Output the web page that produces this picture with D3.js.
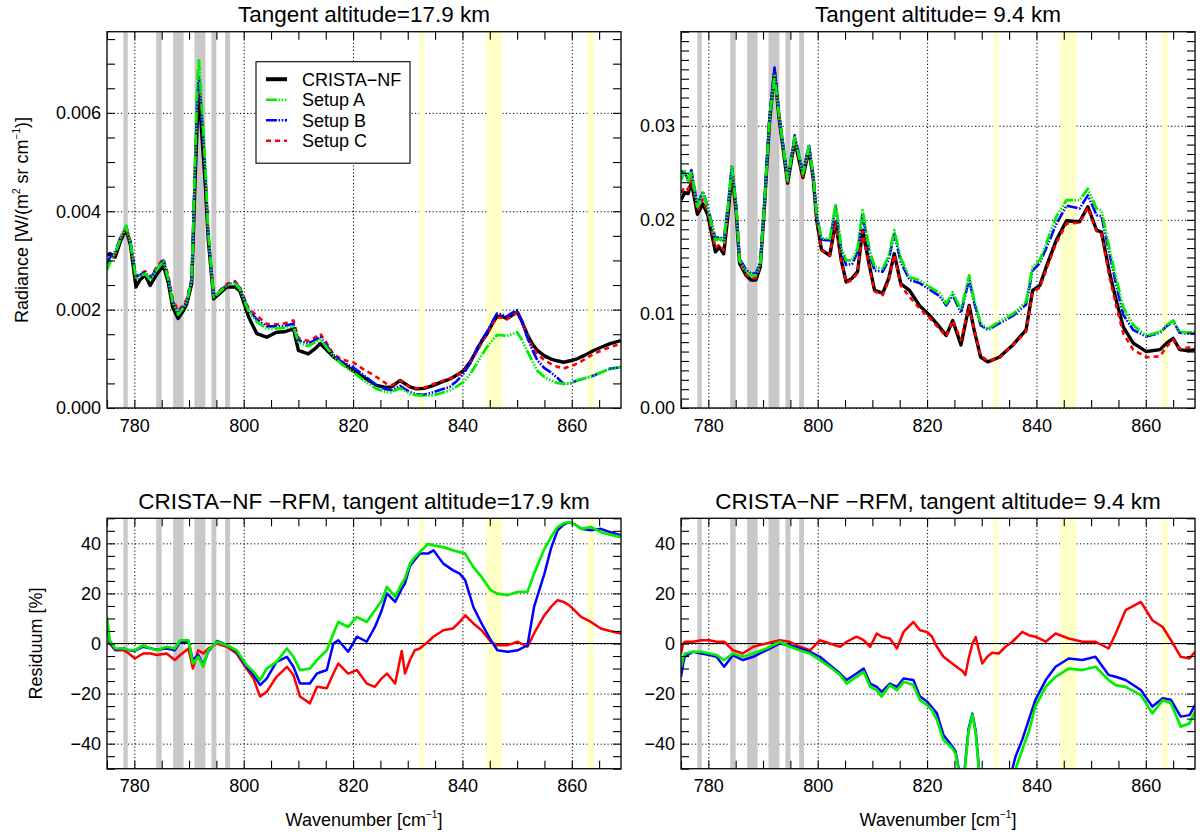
<!DOCTYPE html>
<html>
<head>
<meta charset="utf-8">
<script src="https://d3js.org/d3.v7.min.js"></script>
<style>
  body { margin: 0; background: #fff; }
  svg { font-family: "Liberation Sans", Arial, Helvetica, sans-serif; }
</style>
</head>
<body>
<div id="chart"></div>
<script>
// masked spectral regions (cm-1)
var grayBands = [[778.0, 778.8], [784.0, 785.0], [787.1, 789.0], [791.0, 793.0], [794.1, 795.0], [796.6, 797.5]];
var yellowBands = [[832.1, 833.0], [844.3, 847.3], [862.9, 864.0]];

var xMajorTicks = [780, 800, 820, 840, 860];
var xMinorStep = 5;

// ---- radiance, tangent altitude 17.9 km (units 1e-3 W/(m2 sr cm-1)) ----
var wn18 = [775, 775.5, 776.5, 777.5, 778.5, 779.3, 780.3, 781, 782, 782.9,
  784, 785.3, 786.2, 787, 788, 789, 789.6, 790.5, 791.1, 791.5,
  791.8, 792.2, 793, 793.5, 794.5, 795.5, 796.9, 798.4, 799.3, 800.9,
  802.4, 804.2, 806, 807.5, 809.1, 810, 811.8, 813, 814, 815,
  816.4, 818, 820, 822, 824.3, 826, 827, 828.6, 830.4, 831.6,
  833, 834.7, 836, 837.7, 839, 840.2, 841.5, 842.6, 843.5, 844.5,
  845.5, 846.3, 847.2, 848.1, 849, 850, 850.8, 851.8, 852.8, 853.7,
  855, 856.1, 857.3, 858.5, 859.7, 861, 862.5, 864, 865.5, 867,
  869];
var crista18 = [3.10, 3.14, 3.07, 3.40, 3.64, 3.30, 2.46, 2.60, 2.70, 2.49,
  2.70, 2.90, 2.55, 2.05, 1.82, 1.98, 2.12, 2.53, 4.6, 5.8,
  6.35, 5.8, 4.5, 3.45, 2.22, 2.32, 2.46, 2.46, 2.38, 1.85,
  1.51, 1.44, 1.54, 1.55, 1.61, 1.17, 1.10, 1.20, 1.31, 1.20,
  1.04, 0.92, 0.76, 0.62, 0.46, 0.42, 0.43, 0.56, 0.43, 0.39,
  0.40, 0.46, 0.52, 0.59, 0.67, 0.76, 0.95, 1.17, 1.35, 1.51,
  1.72, 1.86, 1.86, 1.82, 1.88, 1.95, 1.78, 1.51, 1.30, 1.17,
  1.06, 1.00, 0.96, 0.93, 0.96, 1.00, 1.08, 1.17, 1.24, 1.31,
  1.37];
var setupA18 = [2.80, 2.95, 3.15, 3.45, 3.70, 3.35, 2.62, 2.68, 2.73, 2.60,
  2.80, 2.98, 2.62, 2.15, 1.90, 2.04, 2.15, 2.60, 5.0, 6.6,
  7.10, 6.4, 4.9, 3.60, 2.25, 2.35, 2.49, 2.53, 2.42, 1.96,
  1.75, 1.61, 1.62, 1.63, 1.66, 1.33, 1.26, 1.33, 1.40, 1.26,
  1.05, 0.88, 0.73, 0.56, 0.39, 0.33, 0.32, 0.40, 0.29, 0.26,
  0.25, 0.26, 0.30, 0.36, 0.44, 0.53, 0.70, 0.90, 1.07, 1.24,
  1.38, 1.48, 1.48, 1.46, 1.50, 1.54, 1.40, 1.17, 0.95, 0.76,
  0.63, 0.56, 0.51, 0.49, 0.51, 0.56, 0.61, 0.66, 0.73, 0.80,
  0.83];
var setupB18 = [2.95, 3.05, 3.18, 3.48, 3.70, 3.38, 2.66, 2.70, 2.76, 2.63,
  2.82, 3.00, 2.65, 2.18, 1.93, 2.06, 2.18, 2.62, 4.9, 6.3,
  6.75, 6.2, 4.8, 3.55, 2.26, 2.36, 2.50, 2.55, 2.44, 1.99,
  1.80, 1.66, 1.66, 1.67, 1.71, 1.37, 1.31, 1.38, 1.44, 1.30,
  1.08, 0.93, 0.83, 0.66, 0.46, 0.38, 0.36, 0.45, 0.32, 0.28,
  0.27, 0.32, 0.37, 0.43, 0.55, 0.70, 0.92, 1.20, 1.38, 1.55,
  1.76, 1.92, 1.90, 1.86, 1.93, 1.99, 1.78, 1.45, 1.18, 0.97,
  0.81, 0.73, 0.62, 0.49, 0.50, 0.56, 0.61, 0.66, 0.73, 0.80,
  0.83];
var setupC18 = [2.93, 3.02, 3.15, 3.45, 3.68, 3.38, 2.68, 2.72, 2.78, 2.66,
  2.85, 3.04, 2.70, 2.22, 1.98, 2.10, 2.22, 2.65, 4.8, 6.1,
  6.6, 6.1, 4.7, 3.55, 2.28, 2.38, 2.52, 2.58, 2.46, 2.02,
  1.88, 1.71, 1.70, 1.72, 1.78, 1.42, 1.36, 1.43, 1.51, 1.35,
  1.10, 0.98, 0.93, 0.78, 0.63, 0.50, 0.46, 0.56, 0.42, 0.40,
  0.41, 0.49, 0.54, 0.59, 0.67, 0.74, 0.93, 1.14, 1.32, 1.50,
  1.70, 1.84, 1.84, 1.80, 1.86, 1.94, 1.78, 1.50, 1.25, 1.10,
  0.97, 0.90, 0.84, 0.80, 0.85, 0.90, 1.00, 1.10, 1.17, 1.24,
  1.31];

// ---- radiance, tangent altitude 9.4 km (units 1e-3) ----
var wn9 = [775, 775.7, 776.3, 776.9, 778, 779, 779.9, 781.3, 782, 782.8,
  783.6, 784.3, 785.1, 785.7, 786.9, 787.8, 788.7, 789.5, 790.3, 791.2,
  792.1, 793.0, 794.5, 795.8, 797.3, 798.4, 799.2, 799.8, 800.7, 802.2,
  803.3, 804.3, 805.2, 806.3, 807.3, 808.2, 809.5, 810.4, 811.9, 813,
  814.0, 815.2, 816.8, 818.6, 820.4, 822.3, 823.5, 824.7, 826.2, 827.7,
  828.6, 829.8, 831.1, 833.2, 835.7, 838.1, 839.3, 840.6, 841.8, 843.6,
  845.5, 847.9, 849.4, 851.0, 851.9, 853.4, 854.7, 855.9, 857.7, 860.1,
  862.6, 863.8, 865.0, 866.2, 867.5, 869];
var crista9 = [22.1, 22.9, 22.8, 24.0, 20.6, 21.7, 20.5, 16.6, 17.1, 16.4,
  20.5, 25.1, 20.8, 15.4, 14.1, 13.6, 13.6, 15.0, 21.8, 30.5,
  35.7, 30.5, 23.9, 28.4, 24.5, 27.5, 24.3, 20.0, 16.8, 16.2,
  19.8, 15.7, 13.4, 13.8, 14.5, 18.9, 15.0, 12.5, 12.2, 13.8,
  16.4, 13.2, 12.5, 10.9, 9.9, 8.6, 7.7, 9.3, 6.7, 10.9,
  8.3, 5.4, 4.9, 5.4, 6.7, 8.3, 12.5, 13.0, 15.0, 17.8,
  19.9, 19.8, 21.4, 18.9, 18.7, 14.3, 11.2, 8.6, 6.9, 6.0,
  6.2, 6.9, 7.4, 6.2, 6.1, 6.2];
var setupA9 = [24.2, 25.2, 24.0, 25.2, 21.4, 22.9, 21.2, 17.8, 18.0, 17.6,
  21.4, 25.6, 21.4, 15.7, 14.5, 14.1, 14.1, 15.3, 22.1, 30.9,
  35.3, 30.9, 24.2, 28.8, 24.9, 27.8, 24.6, 20.6, 18.0, 18.0,
  21.7, 17.1, 15.7, 15.7, 17.0, 21.0, 16.8, 15.0, 14.8, 16.2,
  18.9, 15.9, 13.9, 13.6, 12.9, 12.2, 11.1, 12.3, 10.4, 14.1,
  11.5, 9.0, 8.4, 9.2, 10.0, 11.3, 15.0, 15.7, 17.5, 20.3,
  22.1, 22.1, 23.3, 21.2, 21.0, 16.8, 13.5, 10.7, 8.8, 7.7,
  8.1, 8.8, 9.3, 8.1, 8.0, 8.1];
var setupB9 = [25.2, 25.0, 24.3, 25.3, 21.6, 23.0, 21.4, 18.0, 18.2, 17.8,
  21.6, 25.8, 21.6, 15.9, 14.7, 14.3, 14.3, 15.5, 22.3, 31.1,
  36.2, 31.0, 24.4, 29.0, 25.1, 28.0, 24.7, 20.6, 17.9, 17.8,
  21.4, 16.8, 15.2, 15.3, 16.6, 20.6, 16.4, 14.6, 14.5, 15.8,
  18.5, 15.5, 13.6, 13.3, 12.6, 11.9, 10.9, 12.0, 10.1, 13.7,
  11.2, 8.8, 8.3, 9.0, 9.8, 11.0, 14.6, 15.4, 17.0, 19.5,
  21.5, 21.2, 22.6, 20.5, 20.4, 16.3, 12.8, 9.9, 8.3, 7.6,
  8.0, 8.7, 9.2, 8.0, 7.9, 7.9];
var setupC9 = [22.9, 23.5, 23.2, 24.3, 21.0, 22.2, 20.8, 17.0, 17.4, 16.8,
  20.8, 25.3, 21.0, 15.5, 14.2, 13.8, 13.8, 15.1, 22.0, 30.7,
  36.0, 30.7, 24.0, 28.6, 24.6, 27.6, 24.3, 20.1, 16.8, 16.2,
  19.8, 15.6, 13.3, 13.6, 14.4, 18.8, 14.8, 12.4, 12.0, 13.6,
  16.3, 13.0, 11.8, 10.6, 9.6, 8.4, 7.6, 9.3, 7.2, 10.8,
  8.3, 5.6, 5.0, 5.3, 6.7, 8.1, 12.3, 12.8, 14.7, 17.5,
  19.6, 19.7, 21.3, 18.8, 18.5, 13.8, 10.6, 7.9, 6.2, 5.4,
  5.5, 6.5, 7.3, 6.3, 6.4, 6.5];

// ---- residuals CRISTA-NF - RFM [%], 17.9 km ----
var wnRes18 = [775, 775.5, 776.5, 778, 779, 780.1, 781.6, 783, 784.1, 785.9,
  787.4, 788.4, 789.9, 790.7, 791.7, 792.6, 793.5, 795.1, 796.9, 798.7,
  800.5, 801.8, 803, 804.2, 806, 807.9, 809.1, 810.3, 812.1, 813.4,
  815.2, 816.4, 817.3, 819.1, 820.7, 822.5, 824, 825.2, 826.2, 827.7,
  828.9, 829.5, 830.4, 831.3, 832.2, 833.7, 834.7, 836.5, 838.3, 839.5,
  840.5, 842, 843.5, 845.2, 846.4, 848.2, 850.1, 851.9, 853.1, 855,
  856.2, 857.4, 858.5, 859.5, 860.6, 861.7, 863.5, 865.3, 867, 869];
var resA18 = [10.6, 1.3, -2.0, -2.0, -2.5, -2.7, -0.7, -2.0, -2.7, -1.3,
  -2.0, 1.3, 1.3, -8.0, -5.3, -9.3, -2.7, 0.7, -0.7, -2.7,
  -8.6, -11.3, -14.6, -10.0, -7.3, -2.0, -5.3, -10.6, -10.0, -6.6,
  -2.7, 4.0, 8.6, 6.6, 10.6, 8.6, 13.3, 17.0, 22.6, 18.6,
  23.9, 26.0, 31.9, 34.5, 36.5, 39.8, 39.2, 38.5, 37.2, 36.5,
  35.9, 30.5, 26.6, 21.2, 19.9, 19.3, 20.6, 20.6, 27.9, 37.8,
  42.5, 46.5, 48.0, 48.5, 47.5, 45.8, 46.5, 44.5, 43.5, 42.5];
var resB18 = [8.0, 0.5, -2.5, -2.0, -2.7, -3.0, -1.3, -2.0, -2.5, -2.0,
  -2.7, 0.7, 0.7, -6.6, -4.6, -8.6, -3.3, 1.0, -0.7, -3.3,
  -9.3, -12.6, -16.6, -14.0, -7.3, -5.3, -9.3, -16.0, -16.0, -12.0,
  -10.6, 0.0, 1.3, -3.3, 2.7, 0.7, 6.6, 13.0, 20.0, 16.6,
  21.9, 24.0, 31.0, 33.5, 35.9, 35.9, 37.2, 31.9, 29.2, 27.9,
  25.3, 14.6, 8.0, 1.3, -2.7, -3.3, -2.7, -0.7, 14.6, 27.9,
  38.0, 45.2, 47.5, 48.5, 47.5, 45.8, 45.2, 45.8, 44.5, 43.2];
var resC18 = [9.3, 0.0, -2.7, -2.7, -4.0, -6.0, -4.0, -4.0, -4.6, -4.0,
  -6.6, -4.6, -2.0, -10.0, -2.7, -4.0, -2.0, 0.0, -1.3, -4.0,
  -10.0, -14.0, -21.2, -19.3, -13.3, -9.3, -12.6, -21.2, -23.9, -17.3,
  -17.9, -12.0, -8.0, -12.0, -10.6, -16.0, -17.3, -14.0, -12.0, -16.0,
  -3.0, -12.0, -6.6, -2.7, -2.0, 0.7, 2.7, 5.3, 6.0, 8.6,
  11.3, 8.0, 5.3, 0.7, -0.7, -0.7, 0.7, -1.3, 4.0, 11.3,
  14.6, 17.3, 16.6, 15.3, 13.0, 10.6, 8.6, 6.0, 5.0, 4.0];

// ---- residuals CRISTA-NF - RFM [%], 9.4 km (values below -50 leave the frame) ----
var wnRes9 = [775, 775.4, 775.7, 777.2, 778.7, 780.2, 781.5, 782.9, 784.5, 786.3,
  788.2, 790.6, 793.1, 794.9, 796.7, 798.6, 800.4, 802.2, 804.1, 805.3,
  807.1, 808.4, 809.6, 810.8, 811.7, 813.2, 814.5, 815.7, 817.5, 818.7,
  820, 820.9, 821.8, 823, 824.6, 825.2, 825.8, 826.5, 827.0, 827.6,
  828.3, 828.9, 829.5, 830.1, 831, 831.9, 833.1, 834.5, 835.6, 836.2,
  837.4, 838.6, 839.8, 841.7, 843.5, 845.9, 848.4, 850.8, 853.2, 854.5,
  856.3, 859.1, 861.2, 863.1, 864.6, 866.4, 868, 869];
var resA9 = [-9.3, -6.0, -4.0, -3.3, -3.3, -4.0, -4.6, -6.6, -4.0, -5.3,
  -4.0, -2.0, 0.7, -1.3, -2.7, -4.0, -6.6, -9.3, -12.6, -16.0,
  -13.3, -11.3, -17.3, -18.6, -21.2, -16.6, -18.6, -15.3, -16.6, -22.6,
  -24.6, -26.6, -30.5, -38.5, -41.8, -44.0, -51.0, -60, -48, -35,
  -28.5, -36, -51, -62, -68, -68, -66, -60, -53, -50,
  -42.5, -35.2, -25.2, -17.3, -13.3, -10.0, -10.6, -9.3, -14.6, -16.6,
  -17.3, -20.6, -27.9, -22.6, -23.9, -33.2, -31.9, -27.2];
var resB9 = [-13.3, -8.0, -5.3, -3.3, -4.0, -4.6, -5.3, -9.3, -4.6, -6.6,
  -5.3, -2.7, 0.0, -0.7, -2.0, -3.3, -5.3, -8.6, -12.0, -14.6,
  -12.0, -10.0, -16.0, -17.3, -19.3, -16.0, -17.3, -14.0, -14.6, -21.2,
  -23.2, -25.5, -27.9, -36.5, -41.0, -43.0, -50.0, -60, -47, -34,
  -28.0, -35, -50, -62, -68, -68, -66, -58, -50, -45,
  -38.5, -30.5, -22.6, -14.6, -9.3, -6.0, -6.6, -5.3, -12.6, -13.3,
  -14.6, -18.6, -25.2, -21.9, -22.5, -29.2, -28.6, -24.6];
var resC9 = [-4.0, 0.0, 0.7, 0.7, 1.3, 1.3, 0.7, 0.7, -2.7, -4.0,
  -1.3, 0.0, 1.3, 0.7, -1.3, -2.7, 1.3, 0.0, -1.3, 0.7,
  2.7, 1.3, -1.3, 4.0, 2.7, 2.0, -2.0, 4.6, 8.6, 5.3,
  4.6, 2.7, -1.3, -5.3, -8.0, -9.0, -10.0, -11.0, -12.6, -6.0,
  0.0, 2.6, -3.0, -8.0, -5.3, -3.7, -4.0, -1.0, 0.7, 2.0,
  4.6, 3.3, 2.7, 0.7, 4.0, 2.0, 0.7, 0.7, -2.0, 4.0,
  13.3, 16.6, 9.3, 6.6, 1.3, -5.3, -6.0, -3.3];

var svgWidth = 1200;
var svgHeight = 836;

var svg = d3.select("#chart")
  .append("svg")
  .attr("width", svgWidth)
  .attr("height", svgHeight);

// line styles shared by panels and legend
var styles = {
  crista: { color: "#000000", width: 3.4, dash: null },
  A: { color: "#00ee00", width: 2.8, dash: "11,1.6,1.5,1.6,1.5,1.6,1.5,1.6" },
  B: { color: "#0000ff", width: 2.6, dash: "11,1.6,1.5,1.6,1.5,1.6" },
  C: { color: "#ff0000", width: 2.6, dash: "5,4" },
  rA: { color: "#00ee00", width: 2.7, dash: null },
  rB: { color: "#0000ff", width: 2.5, dash: null },
  rC: { color: "#ff0000", width: 2.5, dash: null }
};

function drawPanel(p) {
  var width = p.width, height = p.height;
  var g = svg.append("g").attr("transform", "translate(" + p.left + "," + p.top + ")");

  var x = d3.scaleLinear().domain([775, 869]).range([0, width]);
  var y = d3.scaleLinear().domain(p.yDomain).range([height, 0]);

  g.append("clipPath").attr("id", p.id)
    .append("rect").attr("width", width).attr("height", height);

  // dotted grid at the labelled ticks
  g.append("g").attr("transform", "translate(0," + height + ")")
    .call(d3.axisBottom(x).tickValues(xMajorTicks).tickSize(-height).tickFormat(""))
    .call(function(a) { a.select(".domain").remove(); });
  g.append("g")
    .call(d3.axisLeft(y).tickValues(p.yMajor).tickSize(-width).tickFormat(""))
    .call(function(a) { a.select(".domain").remove(); });
  g.selectAll(".tick line")
    .attr("stroke", "#000")
    .attr("stroke-width", 1)
    .attr("stroke-dasharray", "1.2,2.3");

  // shaded regions
  var bands = grayBands.map(function(b) { return { r: b, c: "#c8c8c8" }; })
    .concat(yellowBands.map(function(b) { return { r: b, c: "#ffffc8" }; }));
  g.append("g").selectAll("rect")
    .data(bands)
    .enter()
    .append("rect")
    .attr("x", function(d) { return x(d.r[0]); })
    .attr("width", function(d) { return x(d.r[1]) - x(d.r[0]); })
    .attr("y", 0)
    .attr("height", height)
    .attr("fill", function(d) { return d.c; });

  if (p.zero) {
    g.append("line")
      .attr("x1", 0).attr("x2", width)
      .attr("y1", y(0)).attr("y2", y(0))
      .attr("stroke", "#000").attr("stroke-width", 1.2);
  }

  var line = d3.line()
    .x(function(d) { return x(d[0]); })
    .y(function(d) { return y(d[1]); });

  var dataG = g.append("g").attr("clip-path", "url(#" + p.id + ")");
  p.series.forEach(function(s) {
    var st = styles[s.style];
    dataG.append("path")
      .datum(d3.zip(s.wn, s.vals))
      .attr("fill", "none")
      .attr("stroke", st.color)
      .attr("stroke-width", st.width)
      .attr("stroke-linejoin", "round")
      .attr("stroke-dasharray", st.dash)
      .attr("d", line);
  });

  // short inward minor ticks on all four sides
  var xMinor = d3.range(775, 870, xMinorStep);
  var yMinor = d3.range(p.yDomain[0], p.yDomain[1] + 1e-9, p.yMinorStep);
  var tickG = g.append("g").attr("class", "minor");
  tickG.append("g").attr("transform", "translate(0," + height + ")")
    .call(d3.axisBottom(x).tickValues(xMinor).tickSize(-8).tickFormat(""));
  tickG.append("g")
    .call(d3.axisTop(x).tickValues(xMinor).tickSize(-8).tickFormat(""));
  tickG.append("g")
    .call(d3.axisLeft(y).tickValues(yMinor).tickSize(-8).tickFormat(""));
  tickG.append("g").attr("transform", "translate(" + width + ",0)")
    .call(d3.axisRight(y).tickValues(yMinor).tickSize(-8).tickFormat(""));
  tickG.selectAll(".domain").remove();
  tickG.selectAll("line").attr("stroke", "#000").attr("stroke-width", 1.1);

  // tick labels
  var xl = g.append("g").attr("transform", "translate(0," + height + ")")
    .call(d3.axisBottom(x).tickValues(xMajorTicks).tickSize(0).tickPadding(11).tickFormat(d3.format("d")));
  var yl = g.append("g")
    .call(d3.axisLeft(y).tickValues(p.yMajor).tickSize(0).tickPadding(6).tickFormat(p.yFormat));
  [xl, yl].forEach(function(a) {
    a.select(".domain").remove();
    a.selectAll("text")
      .attr("fill", "#000")
      .style("font-size", "18px")
      .style("font-family", "Liberation Sans, Arial, sans-serif");
  });

  // frame
  g.append("rect")
    .attr("width", width).attr("height", height)
    .attr("fill", "none").attr("stroke", "#111").attr("stroke-width", 1.4);

  g.append("text")
    .attr("x", width / 2)
    .attr("y", -9.5)
    .attr("text-anchor", "middle")
    .style("font-size", "22.5px")
    .text(p.title);

  return g;
}

var plotW = 514;
var topH = 376.3;
var botH = 250.4;

drawPanel({
  id: "clipTL", left: 107, top: 31.7, width: plotW, height: topH,
  yDomain: [0, 7.65], yMajor: [0, 2, 4, 6], yMinorStep: 0.5,
  yFormat: function(d) { return (d / 1000).toFixed(3); },
  title: "Tangent altitude=17.9 km",
  series: [
    { wn: wn18, vals: crista18, style: "crista" },
    { wn: wn18, vals: setupC18, style: "C" },
    { wn: wn18, vals: setupB18, style: "B" },
    { wn: wn18, vals: setupA18, style: "A" }
  ]
});

drawPanel({
  id: "clipTR", left: 681, top: 31.7, width: plotW, height: topH,
  yDomain: [0, 40], yMajor: [0, 10, 20, 30], yMinorStep: 1,
  yFormat: function(d) { return (d / 1000).toFixed(2); },
  title: "Tangent altitude= 9.4 km",
  series: [
    { wn: wn9, vals: crista9, style: "crista" },
    { wn: wn9, vals: setupC9, style: "C" },
    { wn: wn9, vals: setupB9, style: "B" },
    { wn: wn9, vals: setupA9, style: "A" }
  ]
});

drawPanel({
  id: "clipBL", left: 107, top: 518.3, width: plotW, height: botH,
  yDomain: [-50, 50], yMajor: [-40, -20, 0, 20, 40], yMinorStep: 5, zero: true,
  yFormat: d3.format("d"),
  title: "CRISTA\u2212NF \u2212RFM, tangent altitude=17.9 km",
  series: [
    { wn: wnRes18, vals: resC18, style: "rC" },
    { wn: wnRes18, vals: resB18, style: "rB" },
    { wn: wnRes18, vals: resA18, style: "rA" }
  ]
});

drawPanel({
  id: "clipBR", left: 681, top: 518.3, width: plotW, height: botH,
  yDomain: [-50, 50], yMajor: [-40, -20, 0, 20, 40], yMinorStep: 5, zero: true,
  yFormat: d3.format("d"),
  title: "CRISTA\u2212NF \u2212RFM, tangent altitude= 9.4 km",
  series: [
    { wn: wnRes9, vals: resC9, style: "rC" },
    { wn: wnRes9, vals: resB9, style: "rB" },
    { wn: wnRes9, vals: resA9, style: "rA" }
  ]
});

// legend in the upper left panel
var legendNames = ["CRISTA\u2212NF", "Setup A", "Setup B", "Setup C"];
var legendStyles = ["crista", "A", "B", "C"];
var legend = svg.append("g").attr("transform", "translate(256,61.7)");
legend.append("rect")
  .attr("width", 154).attr("height", 101.5)
  .attr("fill", "#fff").attr("stroke", "#000").attr("stroke-width", 1.1);
var rows = legend.selectAll(".row")
  .data(legendNames)
  .enter()
  .append("g")
  .attr("transform", function(d, i) { return "translate(0," + (17.5 + i * 20.5) + ")"; });
rows.append("line")
  .attr("x1", 10).attr("x2", 31)
  .attr("stroke", function(d, i) { return styles[legendStyles[i]].color; })
  .attr("stroke-width", function(d, i) { return i === 0 ? 4 : 2.6; })
  .attr("stroke-dasharray", function(d, i) { return styles[legendStyles[i]].dash; });
rows.append("text")
  .attr("x", 46)
  .attr("y", 6.5)
  .style("font-size", "18px")
  .text(function(d) { return d; });

// axis titles
var ylab = svg.append("text")
  .attr("transform", "translate(28,220) rotate(-90)")
  .attr("text-anchor", "middle")
  .style("font-size", "18px");
ylab.append("tspan").text("Radiance [W/(m");
ylab.append("tspan").attr("dy", -8).style("font-size", "10px").text("2");
ylab.append("tspan").attr("dy", 8).text(" sr cm");
ylab.append("tspan").attr("dy", -8).style("font-size", "10px").text("\u22121");
ylab.append("tspan").attr("dy", 8).text(")]");

svg.append("text")
  .attr("transform", "translate(42,643.5) rotate(-90)")
  .attr("text-anchor", "middle")
  .style("font-size", "18px")
  .text("Residuum [%]");

[364, 938].forEach(function(cx) {
  var t = svg.append("text")
    .attr("x", cx)
    .attr("y", 826)
    .attr("text-anchor", "middle")
    .style("font-size", "18px");
  t.append("tspan").text("Wavenumber [cm");
  t.append("tspan").attr("dy", -8).style("font-size", "10px").text("\u22121");
  t.append("tspan").attr("dy", 8).text("]");
});
</script>
</body>
</html>
